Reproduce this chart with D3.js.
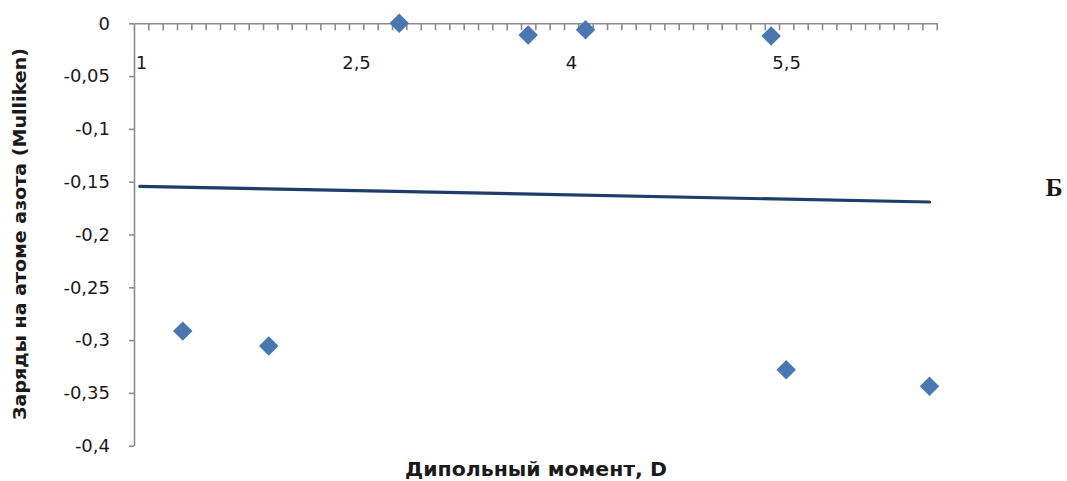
<!DOCTYPE html>
<html>
<head>
<meta charset="utf-8">
<script src="https://cdn.jsdelivr.net/npm/d3@7"></script>
<style>
  html, body { margin: 0; padding: 0; background: #fff; }
  svg { display: block; }
  text { font-family: "DejaVu Sans", sans-serif; fill: #1a1a1a; }
</style>
</head>
<body>
<svg id="chart" width="1067" height="481"></svg>
<script>
// ---- data ----
const dipoleMoment = [1.34, 1.94, 2.85, 3.75, 4.15, 5.445, 5.55, 6.55];
const nitrogenCharge = [-0.2915, -0.3057, 0.0, -0.011, -0.006, -0.012, -0.328, -0.3436];
const xTickValues = [1, 2.5, 4, 5.5];
const xTickLabels = ["1", "2,5", "4", "5,5"];
const yTickValues = [0, -0.05, -0.1, -0.15, -0.2, -0.25, -0.3, -0.35, -0.4];
const yTickLabels = ["0", "-0,05", "-0,1", "-0,15", "-0,2", "-0,25", "-0,3", "-0,35", "-0,4"];
const xDomain = [1, 6.6];
const yDomain = [-0.4, 0];
const xMinorStep = 0.1;
const xTitle = "Дипольный момент, D";
const yTitle = "Заряды на атоме азота (Mulliken)";
const panelLabel = "Б";

// ---- layout ----
const svg = d3.select("#chart");
const x = d3.scaleLinear().domain(xDomain).range([134, 936.7]);
const y = d3.scaleLinear().domain(yDomain).range([445.7, 23.3]);
const axisColor = "#8c8c8c";

// y axis
const yAxis = svg.append("g")
  .attr("transform", `translate(${x(xDomain[0])},0)`)
  .call(d3.axisLeft(y).tickValues(yTickValues)
    .tickFormat((d, i) => yTickLabels[i]).tickSize(5).tickSizeOuter(0).tickPadding(19));
yAxis.select(".domain").attr("stroke", axisColor).attr("stroke-width", 1.6);
yAxis.selectAll(".tick line").attr("stroke", axisColor).attr("stroke-width", 1.6);
yAxis.selectAll(".tick text").style("font-size", "18px").attr("fill", "#222");

// x axis (at y = 0), minor ticks
const minorTicks = d3.range(Math.round((xDomain[1] - xDomain[0]) / xMinorStep) + 1)
  .map(i => +(xDomain[0] + i * xMinorStep).toFixed(2)).filter(v => v > xDomain[0]);
const xAxis = svg.append("g")
  .attr("transform", `translate(0,${y(0)})`)
  .call(d3.axisBottom(x).tickValues(minorTicks).tickFormat("").tickSize(7).tickSizeOuter(0));
xAxis.select(".domain").attr("stroke", axisColor).attr("stroke-width", 1.6);
xAxis.selectAll(".tick line").attr("stroke", axisColor).attr("stroke-width", 1.6);

// x tick labels
const xLab = svg.append("g")
  .attr("transform", `translate(0,${y(0)})`)
  .call(d3.axisBottom(x).tickValues(xTickValues).tickFormat((d, i) => xTickLabels[i]).tickSize(0).tickPadding(33));
xLab.select(".domain").remove();
xLab.selectAll(".tick text").style("font-size", "18px").attr("fill", "#222").attr("dx", 7);

// trendline (linear least squares)
const n = dipoleMoment.length;
const mx = d3.mean(dipoleMoment), my = d3.mean(nitrogenCharge);
let sxy = 0, sxx = 0;
for (let i = 0; i < n; i++) {
  sxy += (dipoleMoment[i] - mx) * (nitrogenCharge[i] - my);
  sxx += (dipoleMoment[i] - mx) ** 2;
}
const slope = sxy / sxx, intercept = my - slope * mx;
const trendX = [xDomain[0] + 0.04, d3.max(dipoleMoment)];
svg.append("path")
  .attr("d", d3.line().x(d => x(d)).y(d => y(intercept + slope * d))(trendX))
  .attr("fill", "none").attr("stroke", "#1f3d6b").attr("stroke-width", 3.2).attr("stroke-linecap", "round");

// markers (diamonds)
svg.append("g").selectAll("path")
  .data(dipoleMoment.map((d, i) => [d, nitrogenCharge[i]]))
  .join("path")
  .attr("d", d3.symbol(d3.symbolSquare, 190)())
  .attr("transform", d => `translate(${x(d[0])},${y(d[1])}) rotate(45)`)
  .attr("fill", "#4a77b0");

// titles
svg.append("text")
  .attr("x", 536).attr("y", 476)
  .attr("text-anchor", "middle")
  .attr("textLength", 262).attr("lengthAdjust", "spacingAndGlyphs")
  .style("font-size", "19px").style("font-weight", "bold")
  .text(xTitle);

svg.append("text")
  .attr("transform", "translate(26,234) rotate(-90)")
  .attr("text-anchor", "middle")
  .attr("textLength", 372).attr("lengthAdjust", "spacingAndGlyphs")
  .style("font-size", "18px").style("font-weight", "bold")
  .text(yTitle);

svg.append("text")
  .attr("x", 1054).attr("y", 196)
  .attr("text-anchor", "middle")
  .style("font-family", "'Liberation Serif', serif")
  .style("font-size", "26px").style("font-weight", "bold")
  .text(panelLabel);
</script>
</body>
</html>
